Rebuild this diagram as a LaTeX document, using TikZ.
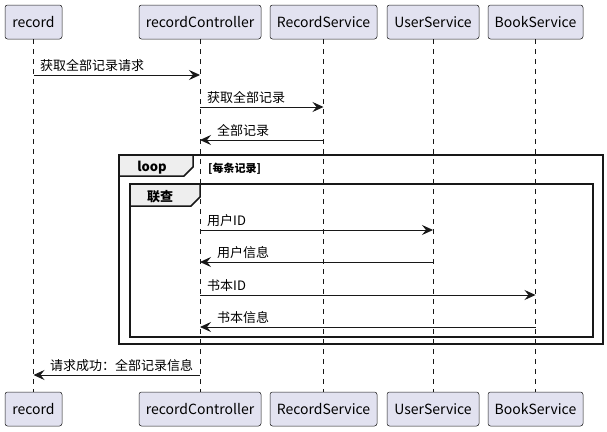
\documentclass[tikz,border=0pt]{standalone}
\usepackage{fontspec}
\setmainfont{Noto Sans CJK SC}
\usetikzlibrary{arrows.meta,calc}
\definecolor{partfill}{HTML}{E2E2F0}
\definecolor{tabfill}{HTML}{EEEEEE}
\definecolor{linecol}{HTML}{181818}
\begin{document}
\begin{tikzpicture}[x=1pt,y=-1pt,
  part/.style={draw=linecol, fill=partfill, rounded corners=2.5pt, font=\fontsize{14}{16}\selectfont, inner sep=0pt, minimum height=34pt, line width=0.5pt},
  life/.style={draw=linecol, dash pattern=on 5pt off 5pt, line width=0.5pt},
  msg/.style={draw=linecol, line width=0.9pt, -{Stealth[length=11pt,width=10pt,inset=4pt]}},
  lbl/.style={font=\fontsize{13}{15}\selectfont, inner sep=0pt, anchor=base west},
  framebox/.style={draw=linecol, line width=1.5pt},
  tabbox/.style={draw=linecol, fill=tabfill, line width=1.5pt},
  tablbl/.style={font=\fontsize{13}{15}\selectfont\bfseries, inner sep=0pt},
]
\useasboundingbox (0,0) rectangle (607,431);
% participants top
\node[part, minimum width=57pt] (rT) at (33.5,22) {record};
\node[part, minimum width=122pt] (cT) at (200,22) {recordController};
\node[part, minimum width=107pt] (sT) at (323.5,22) {RecordService};
\node[part, minimum width=92pt] (uT) at (433,22) {UserService};
\node[part, minimum width=95pt] (bT) at (535.5,22) {BookService};
% participants bottom
\node[part, minimum width=57pt] (rB) at (33.5,409) {record};
\node[part, minimum width=122pt] (cB) at (200,409) {recordController};
\node[part, minimum width=107pt] (sB) at (323.5,409) {RecordService};
\node[part, minimum width=92pt] (uB) at (433,409) {UserService};
\node[part, minimum width=95pt] (bB) at (535.5,409) {BookService};
% lifelines
\foreach \p in {r,c,s,u,b} {
  \draw[life] (\p T.south) -- (\p B.north);
}
% frames
\draw[framebox] (119,155) rectangle (603,344);
\draw[tabbox] (119,155) -- (193,155) -- (193,167) -- (184,176) -- (119,176) -- cycle;
\node[tablbl] (looplbl) at (152,167.5) {loop};
\node[font=\fontsize{11}{13}\selectfont\bfseries, inner sep=0pt, anchor=base west] (guard) at (208,172) {[每条记录]};
\draw[framebox] (130,184) rectangle (593,337);
\draw[tabbox] (130,184) -- (200,184) -- (200,197) -- (191,206) -- (130,206) -- cycle;
\node[tablbl] (grplbl) at (160,197) {联查};
% message coordinates
\coordinate (m1a) at (rT.south |- 0,75);  \coordinate (m1b) at (cT.south |- 0,75);
\coordinate (m2a) at (cT.south |- 0,107); \coordinate (m2b) at (sT.south |- 0,107);
\coordinate (m3a) at (sT.south |- 0,140); \coordinate (m3b) at (cT.south |- 0,140);
\coordinate (m4a) at (cT.south |- 0,230); \coordinate (m4b) at (uT.south |- 0,230);
\coordinate (m5a) at (uT.south |- 0,262); \coordinate (m5b) at (cT.south |- 0,262);
\coordinate (m6a) at (cT.south |- 0,295); \coordinate (m6b) at (bT.south |- 0,295);
\coordinate (m7a) at (bT.south |- 0,327); \coordinate (m7b) at (cT.south |- 0,327);
\coordinate (m8a) at (cT.south |- 0,375); \coordinate (m8b) at (rT.south |- 0,375);
\draw[msg] (m1a) -- (m1b);
\draw[msg] (m2a) -- (m2b);
\draw[msg] (m3a) -- (m3b);
\draw[msg] (m4a) -- (m4b);
\draw[msg] (m5a) -- (m5b);
\draw[msg] (m6a) -- (m6b);
\draw[msg] (m7a) -- (m7b);
\draw[msg] (m8a) -- (m8b);
% labels
\node[lbl] (l1) at (40,70) {获取全部记录请求};
\node[lbl] (l2) at (207,102) {获取全部记录};
\node[lbl] (l3) at (217,135) {全部记录};
\node[lbl] (l4) at (207,225) {用户ID};
\node[lbl] (l5) at (217,257) {用户信息};
\node[lbl] (l6) at (207,290) {书本ID};
\node[lbl] (l7) at (217,322) {书本信息};
\node[lbl] (l8) at (50,370) {请求成功：全部记录信息};
\end{tikzpicture}
\end{document}
